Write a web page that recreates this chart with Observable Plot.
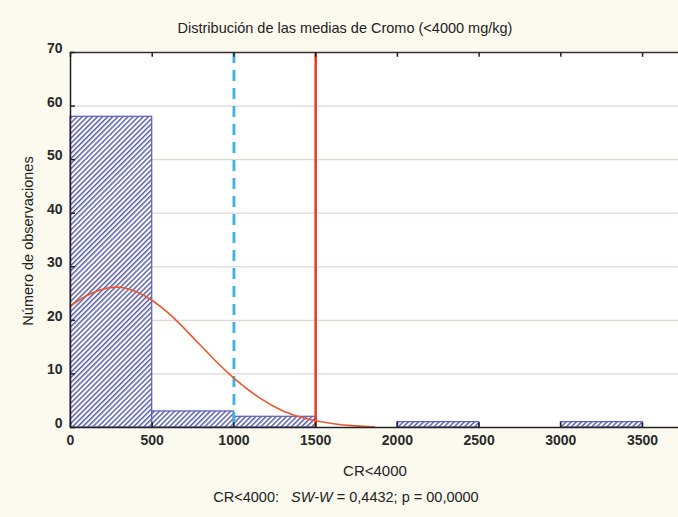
<!DOCTYPE html>
<html>
<head>
<meta charset="utf-8">
<script src="https://cdn.jsdelivr.net/npm/d3@7"></script>
<script src="https://cdn.jsdelivr.net/npm/@observablehq/plot@0.6"></script>
<style>
  html, body { margin: 0; padding: 0; background: #fcf9ee; }
  #wrap { width: 678px; height: 517px; overflow: hidden; font-family: "Liberation Sans", Arial, sans-serif; color: #222; }
  #title { height: 40px; line-height: 56px; text-align: center; font-size: 14.5px; width: 690px; }
  #xlabel { height: 22px; line-height: 22px; font-size: 15px; width: 750px; text-align: center; }
  #caption { height: 30px; line-height: 30px; text-align: center; font-size: 14.5px; width: 692px; }
  svg { display: block; }
</style>
</head>
<body>
<div id="wrap">
  <div id="title">Distribución de las medias de Cromo (&lt;4000 mg/kg)</div>
  <div id="chart"></div>
  <div id="xlabel">CR&lt;4000</div>
  <div id="caption">CR&lt;4000:&nbsp;&nbsp;&nbsp;<i>SW-W</i> = 0,4432; p = 00,0000</div>
</div>
<script>
// Histogram bins (CR<4000 mg/kg)
const binStart = [0, 500, 1000, 1500, 2000, 2500, 3000];
const binEnd   = [500, 1000, 1500, 2000, 2500, 3000, 3500];
const counts   = [58, 3, 2, 0, 1, 0, 1];

// Fitted normal curve
const curveX = [0, 100, 200, 300, 400, 500, 600, 750, 900, 1000, 1150, 1300, 1450, 1600, 1750, 1860];
const curveY = [22.7, 24.8, 26.0, 26.4, 25.5, 23.8, 21.5, 16.8, 12.0, 9.1, 5.5, 2.9, 1.5, 0.7, 0.25, 0.1];

// Reference lines
const dashedLineX = [1000];
const solidLineX = [1500];

// Tick labels
const xTicks = [0, 500, 1000, 1500, 2000, 2500, 3000, 3500];
const yTicks = [0, 10, 20, 30, 40, 50, 60, 70];
const gridY = [10, 20, 30, 40, 50, 60];

const bins = binStart.map((s, i) => ({x1: s, x2: binEnd[i], y: counts[i]})).filter(d => d.y > 0);
const curve = curveX.map((x, i) => ({x, y: curveY[i]}));

const plot = Plot.plot({
  width: 678,
  height: 420,
  marginTop: 12,
  marginBottom: 33,
  marginLeft: 70,
  marginRight: 0,
  style: {background: "transparent", fontFamily: "Liberation Sans, Arial, sans-serif", fontSize: "14px", color: "#222"},
  x: {domain: [0, 3720], label: null},
  y: {domain: [0, 70], label: null},
  marks: [
    Plot.frame({fill: "white", stroke: null}),
    Plot.ruleY(gridY, {y: d => d, stroke: "#dcd8d4", strokeWidth: 1.3}),
    Plot.rectY(bins, {x1: "x1", x2: "x2", y: "y", fill: "url(#hatch)", stroke: "#5a5cbc", strokeWidth: 1.2}),
    Plot.ruleX(dashedLineX, {x: d => d, stroke: "#3cb2e4", strokeWidth: 2.8, strokeDasharray: "11,7"}),
    Plot.ruleX(solidLineX, {x: d => d, stroke: "#e4402a", strokeWidth: 2.6}),
    Plot.line(curve, {x: "x", y: "y", stroke: "#e8582e", strokeWidth: 1.6, curve: "basis"}),
    // axis lines
    Plot.ruleY([0], {stroke: "#222", strokeWidth: 1.5}),
    Plot.ruleY([70], {stroke: "#333", strokeWidth: 1.5}),
    Plot.ruleX([0], {stroke: "#222", strokeWidth: 1.5}),
    // inward ticks
    Plot.ruleX(xTicks, {x: d => d, y1: 70, y2: 69.1, stroke: "#222", strokeWidth: 1.5}),
    Plot.ruleX(xTicks, {x: d => d, y1: 0, y2: 0.9, stroke: "#222", strokeWidth: 1.5}),
    Plot.ruleY(yTicks, {y: d => d, x1: 0, x2: 30, stroke: "#222", strokeWidth: 1.5}),
    Plot.axisX(xTicks, {tickSize: 0, tickPadding: 8, tickFormat: d => String(d), fontSize: 14, fontWeight: "bold", fill: "#2a2a2a"}),
    Plot.axisY(yTicks, {tickSize: 0, tickPadding: 8, tickFormat: d => String(d), dy: -4, fontSize: 14, fontWeight: "bold", fill: "#2a2a2a"})
  ]
});

const svg = d3.select(plot);
const defs = svg.insert("defs", ":first-child");
const pw = 3.6;
const pat = defs.append("pattern")
  .attr("id", "hatch")
  .attr("patternUnits", "userSpaceOnUse")
  .attr("width", pw)
  .attr("height", pw)
  .attr("patternTransform", "rotate(45)");
pat.append("rect").attr("width", pw).attr("height", pw).attr("fill", "white");
pat.append("rect").attr("x", 0).attr("y", 0).attr("width", 1.5).attr("height", pw).attr("fill", "#5c5fb0");

// y-axis title
svg.append("text")
  .attr("transform", "translate(33,201) rotate(-90)")
  .attr("text-anchor", "middle")
  .attr("font-size", 14.5)
  .attr("fill", "#222")
  .text("Número de observaciones");

document.getElementById("chart").appendChild(plot);
</script>
</body>
</html>
